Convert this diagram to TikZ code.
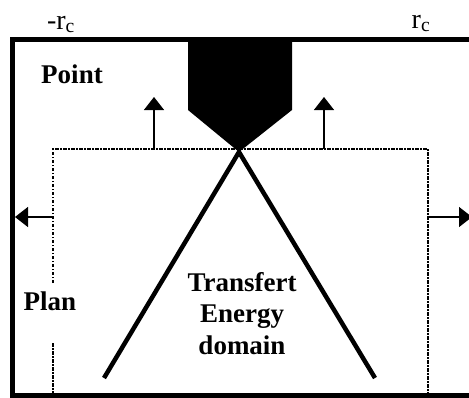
\documentclass[tikz,border=0pt]{standalone}
\usepackage{fontspec}
\setmainfont{Liberation Serif}
\usetikzlibrary{arrows.meta}

\begin{document}
\begin{tikzpicture}
    [x=1pt, y=-1pt,
    frame/.style={line width=5pt, line join=miter},
    cone/.style={line width=4.5pt},
    plane/.style={line width=1.3pt, dash pattern=on 3.5pt off 1.5pt on 1.5pt off 1.5pt},
    push/.style={line width=1.3pt, -{Triangle[length=13pt,width=20pt]}},
    lab/.style={font=\fontsize{27}{31.5}\selectfont\bfseries, align=center, inner sep=0pt},
    axis/.style={font=\fontsize{28}{31}\selectfont, inner sep=0pt}]
    \useasboundingbox (0,0) rectangle (469,397);
        %% Frame
    \coordinate (F1) at (472,39);
    \coordinate (F2) at (12.5,39);
    \coordinate (F3) at (12.5,395);
    \coordinate (F4) at (472,395);
    \draw[frame] (F1) -- (F2) -- (F3) -- (F4);
    \node[axis, anchor=base] (R1) at (61,29) {-r\textsubscript{c}};
    \node[axis, anchor=base] (R2) at (421,28) {r\textsubscript{c}};

        %% Tip
    \coordinate (T1) at (188,39);
    \coordinate (T2) at (292,39);
    \coordinate (T3) at (292,110);
    \coordinate (T) at (239,152);
    \coordinate (T4) at (188,110);
    \fill (T1) -- (T2) -- (T3) -- (T) -- (T4) -- cycle;

        %% Plan
    \coordinate (P1) at (53,283);
    \coordinate (P2) at (53,149);
    \coordinate (P3) at (428,149);
    \coordinate (P4) at (428,395);
    \coordinate (P5) at (53,343);
    \coordinate (P6) at (53,395);
    \draw[plane] (P1) -- (P2) -- (P3) -- (P4);
    \draw[plane] (P5) -- (P6);

        %% Transfert domain
    \coordinate (C1) at (104,378);
    \coordinate (C2) at (375,378);
    \draw[cone] (C1) -- (T) -- (C2);

        %% Expansion arrows
    \coordinate (U1) at (154,149);
    \coordinate (V1) at (154,97);
    \coordinate (U2) at (324,149);
    \coordinate (V2) at (324,97);
    \coordinate (U3) at (53,217);
    \coordinate (V3) at (15,217);
    \coordinate (U4) at (428,217);
    \coordinate (V4) at (472,217);
    \draw[push] (U1) -- (V1);
    \draw[push] (U2) -- (V2);
    \draw[push] (U3) -- (V3);
    \draw[push] (U4) -- (V4);

        %% Labels
    \node[lab, anchor=base] (Pt) at (72,83) {Point};
    \node[lab, anchor=base] (Pl) at (50,310) {Plan};
    \node[lab, anchor=north] (D) at (242,272) {Transfert\\Energy\\domain};
\end{tikzpicture}
\end{document}
